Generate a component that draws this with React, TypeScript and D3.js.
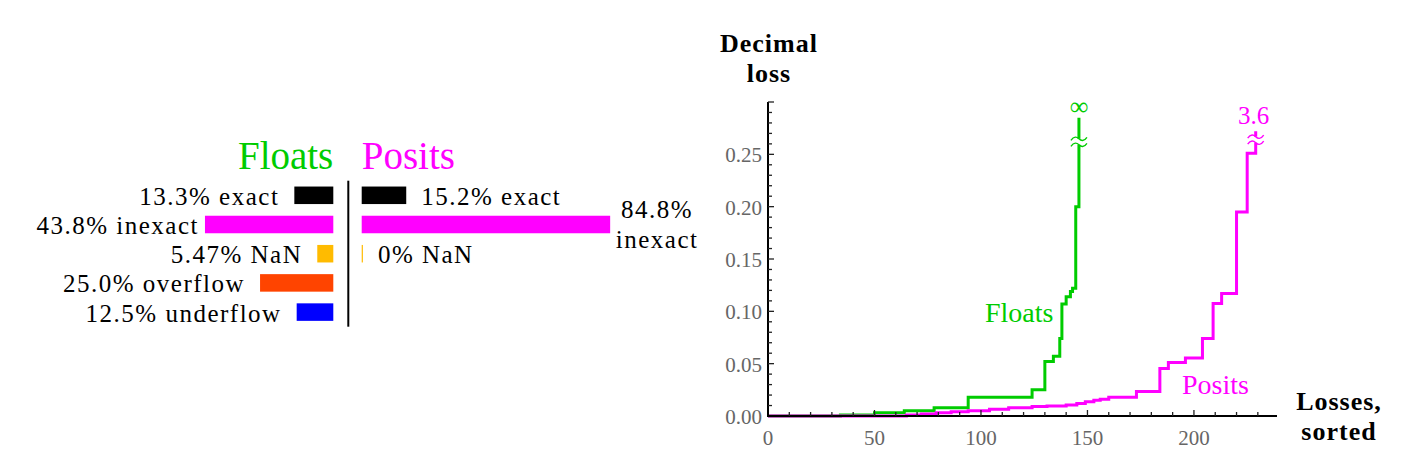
import React from "react";
import * as d3 from "d3";

// ---------- Left panel data (percent of cases) ----------
const floatCategories = ["exact", "inexact", "NaN", "overflow", "underflow"];
const floatPercents = [13.3, 43.8, 5.47, 25.0, 12.5];
const floatLabels = ["13.3% exact", "43.8% inexact", "5.47% NaN", "25.0% overflow", "12.5% underflow"];

const positCategories = ["exact", "inexact", "NaN"];
const positPercents = [15.2, 84.8, 0];
const positLabels = ["15.2% exact", "84.8%|inexact", "0% NaN"];

const categoryColors: Record<string, string> = {
  exact: "#000000",
  inexact: "#ff00ff",
  NaN: "#ffbb00",
  overflow: "#ff4400",
  underflow: "#0000ff",
};

// ---------- Right panel data (sorted decimal losses, step points) ----------
const floatsIdx = [0, 34, 50, 64, 78, 94, 124, 130, 134, 137, 138, 140, 142, 143, 144.5, 146];
const floatsLoss = [0, 0.001, 0.003, 0.005, 0.008, 0.018, 0.025, 0.052, 0.057, 0.074, 0.107, 0.114, 0.119, 0.122, 0.2, 0.285];

const positsIdx = [0, 65, 72, 79, 86, 94, 104, 113, 124, 131, 140, 145, 149, 153, 156, 160, 173, 184, 188, 196, 204, 209, 213, 220, 225, 229];
const positsLoss = [0, 0.001, 0.002, 0.003, 0.004, 0.005, 0.0065, 0.008, 0.009, 0.0096, 0.0105, 0.012, 0.0137, 0.015, 0.016, 0.018, 0.0233, 0.0455, 0.051, 0.0555, 0.074, 0.1076, 0.117, 0.195, 0.251, 0.272];

const xTickValues = [0, 50, 100, 150, 200];
const yTickValues = [0, 0.05, 0.1, 0.15, 0.2, 0.25];
const floatsTopLabel = "∞";
const positsTopLabel = "3.6";

const GREEN = "#00cc00";
const MAGENTA = "#ff00ff";
const SERIF = "Liberation Serif";

function BreakMark({ x, y, color }: { x: number; y: number; color: string }) {
  const tilde = (yy: number) =>
    `M${x - 8},${yy + 1.5} C${x - 5},${yy - 3} ${x - 2},${yy - 2} ${x},${yy} S${x + 5},${yy + 3} ${x + 8},${yy - 1.5}`;
  return (
    <g>
      <rect x={x - 3} y={y - 3} width={6} height={6} fill="#fff" />
      <path d={tilde(y - 3)} fill="none" stroke={color} strokeWidth={1.4} />
      <path d={tilde(y + 3)} fill="none" stroke={color} strokeWidth={1.4} />
    </g>
  );
}

export default function App() {
  // ---- left panel scales ----
  const pct = d3.scaleLinear().domain([0, 100]).range([0, 293]);
  const rows = d3
    .scaleBand<string>()
    .domain(floatCategories)
    .range([180.7, 326.7])
    .paddingInner(0.4)
    .paddingOuter(0.2);
  const floatRight = 333.3;
  const positLeft = 361.7;
  const dividerX = 348.3;
  const bw = rows.bandwidth();

  // ---- right panel scales ----
  const x = d3.scaleLinear().domain([0, 239]).range([768, 1277]);
  const y = d3.scaleLinear().domain([0, 0.3]).range([416, 102]);
  const line = d3
    .line<[number, number]>()
    .x((d) => x(d[0]))
    .y((d) => y(d[1]))
    .curve(d3.curveStepAfter);
  const floatsPts = floatsIdx.map((v, i) => [v, floatsLoss[i]] as [number, number]);
  const positsPts = positsIdx.map((v, i) => [v, positsLoss[i]] as [number, number]);

  const yMinor = d3.range(1, 31).map((i) => i / 100);
  const xMinor = d3.range(10, 240, 10);

  const labelStyle = { fontFamily: SERIF, fontSize: 25, letterSpacing: 1.5 } as React.CSSProperties;
  const base = { fontFamily: SERIF } as React.CSSProperties;

  const fLast = floatsPts[floatsPts.length - 1];
  const pLast = positsPts[positsPts.length - 1];

  return (
    <svg
      width={1403}
      height={463}
      style={{ position: "absolute", left: 0, top: 0, background: "#fff", fontFamily: SERIF }}
    >
      {/* ---------------- Left panel ---------------- */}
      <text x={floatRight} y={169} textAnchor="end" fill={GREEN} fontSize={39} style={base}>
        Floats
      </text>
      <text x={positLeft} y={168.5} textAnchor="start" fill={MAGENTA} fontSize={39} style={base}>
        Posits
      </text>
      <line x1={dividerX} x2={dividerX} y1={rows.range()[0]} y2={rows.range()[1]} stroke="#000" strokeWidth={2} />

      {floatCategories.map((c, i) => {
        const w = pct(floatPercents[i]);
        const yTop = rows(c) as number;
        const gap = c === "inexact" ? 6 : 15;
        return (
          <g key={"f" + c}>
            <rect x={floatRight - w} y={yTop} width={w} height={bw} fill={categoryColors[c]} />
            <text x={floatRight - w - gap} y={yTop + bw / 2 + 9.5} textAnchor="end" style={labelStyle}>
              {floatLabels[i]}
            </text>
          </g>
        );
      })}

      {positCategories.map((c, i) => {
        const w = Math.max(pct(positPercents[i]), 1.2);
        const yTop = rows(c) as number;
        const cy = yTop + bw / 2;
        const parts = positLabels[i].split("|");
        return (
          <g key={"p" + c}>
            <rect x={positLeft} y={yTop} width={w} height={bw} fill={categoryColors[c]} />
            {parts.length === 1 ? (
              <text x={positLeft + w + 15} y={cy + 9.5} textAnchor="start" style={labelStyle}>
                {parts[0]}
              </text>
            ) : (
              <g>
                <text x={positLeft + w + 47} y={cy - 6.2} textAnchor="middle" style={labelStyle}>
                  {parts[0]}
                </text>
                <text x={positLeft + w + 47} y={cy + 23.8} textAnchor="middle" style={labelStyle}>
                  {parts[1]}
                </text>
              </g>
            )}
          </g>
        );
      })}

      {/* ---------------- Right panel ---------------- */}
      <path d={line(floatsPts) || ""} fill="none" stroke={GREEN} strokeWidth={3} strokeLinejoin="miter" />
      <path d={line(positsPts) || ""} fill="none" stroke={MAGENTA} strokeWidth={3} strokeLinejoin="miter" />

      {/* axes */}
      <line x1={x(0)} x2={x(0)} y1={y(0) + 1} y2={y(0.3)} stroke="#000" strokeWidth={2} />
      <line x1={x(0) - 1} x2={x.range()[1]} y1={y(0)} y2={y(0)} stroke="#000" strokeWidth={2} />

      {yMinor.map((v) => {
        const major = Math.round(v * 100) % 5 === 0;
        return (
          <line
            key={"yt" + v}
            x1={x(0)}
            x2={x(0) + (major ? 6 : 4)}
            y1={y(v)}
            y2={y(v)}
            stroke="#222"
            strokeWidth={1.3}
          />
        );
      })}
      {xMinor.map((v) => {
        const major = v % 50 === 0;
        return (
          <line
            key={"xt" + v}
            x1={x(v)}
            x2={x(v)}
            y1={y(0)}
            y2={y(0) - (major ? 6 : 4)}
            stroke="#222"
            strokeWidth={1.3}
          />
        );
      })}

      {yTickValues.map((v) => (
        <text key={"yl" + v} x={x(0) - 6} y={y(v) + 8} textAnchor="end" fontSize={21} fill="#666" style={base}>
          {d3.format(".2f")(v)}
        </text>
      ))}
      {xTickValues.map((v) => (
        <text key={"xl" + v} x={x(v)} y={445} textAnchor="middle" fontSize={21} fill="#666" style={base}>
          {v}
        </text>
      ))}

      {/* axis titles */}
      <g fontWeight="bold" fontSize={26} textAnchor="middle" style={{ fontFamily: SERIF, letterSpacing: 1 }}>
        <text x={769} y={51.5}>Decimal</text>
        <text x={769} y={81.5}>loss</text>
        <text x={1339} y={410}>Losses,</text>
        <text x={1339} y={440}>sorted</text>
      </g>

      {/* series labels */}
      <text x={985} y={321.5} fontSize={28} fill={GREEN} style={base}>
        Floats
      </text>
      <text x={1182} y={394} fontSize={28} fill={MAGENTA} style={base}>
        Posits
      </text>

      {/* break marks and top labels */}
      <BreakMark x={x(fLast[0])} y={y(0.262)} color={GREEN} />
      <BreakMark x={x(pLast[0])} y={y(0.264)} color={MAGENTA} />
      <text x={x(fLast[0])} y={y(fLast[1]) - 3} textAnchor="middle" fontSize={26} fill={GREEN} style={base}>
        {floatsTopLabel}
      </text>
      <text x={x(pLast[0]) - 2} y={y(pLast[1]) - 7} textAnchor="middle" fontSize={25} fill={MAGENTA} style={base}>
        {positsTopLabel}
      </text>
    </svg>
  );
}
